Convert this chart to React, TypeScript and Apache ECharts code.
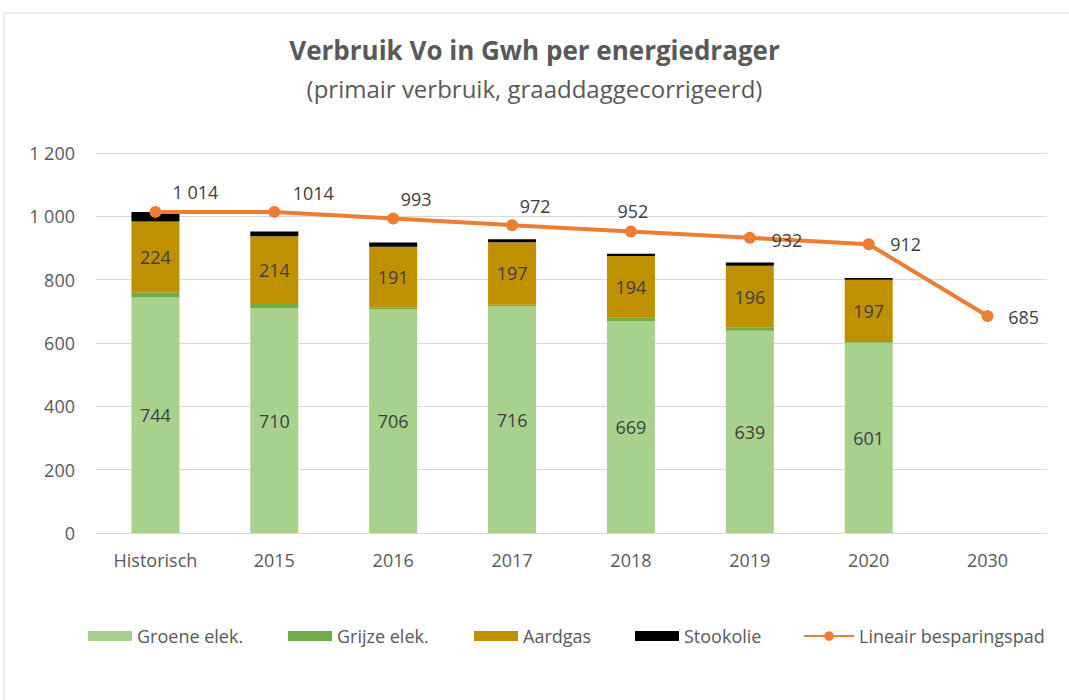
import React, { useEffect, useRef } from "react";
import * as echarts from "echarts";

const categories = ["Historisch", "2015", "2016", "2017", "2018", "2019", "2020", "2030"];
const groeneElek = [744, 710, 706, 716, 669, 639, 601, null];
const grijzeElek = [16, 13, 7, 5, 12, 9, 2, null];
const aardgas = [224, 214, 191, 197, 194, 196, 197, null];
const stookolie = [30, 15, 13, 10, 7, 10, 5, null];
const besparingspad = [1014, 1014, 993, 972, 952, 932, 912, 685];
const besparingsLabels = ["1 014", "1014", "993", "972", "952", "932", "912", "685"];
const labelOffsets = [[40, -20], [39, -19], [23, -20], [23, -19], [2, -21], [37, 2], [37, 0], [36, 1]];
const yTicks = [0, 200, 400, 600, 800, 1000, 1200];

const FONT = "'Open Sans', Lato, sans-serif";
const TXT = "#595959";

export default function App() {
  const ref = useRef<HTMLDivElement>(null);
  useEffect(() => {
    const chart = echarts.init(ref.current!, null, { renderer: "svg" });
    const barLabel = {
      show: true,
      position: "inside",
      color: "#404040",
      fontSize: 18,
      fontFamily: FONT,
    };
    const legendBase = {
      top: 627,
      padding: 0,
      itemWidth: 44,
      itemHeight: 10,
      itemGap: 6,
      textStyle: { color: TXT, fontSize: 18, fontFamily: FONT },
      icon: "rect",
    };
    chart.setOption({
      animation: false,
      backgroundColor: "#ffffff",
      title: [
        {
          text: "Verbruik Vo in Gwh per energiedrager",
          left: "center",
          top: 32,
          textStyle: { color: TXT, fontSize: 26, fontWeight: "bold", fontFamily: FONT },
        },
        {
          text: "(primair verbruik, graaddaggecorrigeerd)",
          left: "center",
          top: 71,
          textStyle: { color: TXT, fontSize: 24, fontWeight: "normal", fontFamily: FONT },
        },
      ],
      graphic: [
        {
          type: "rect",
          shape: { x: 4, y: 13, width: 1100, height: 720 },
          style: { fill: "none", stroke: "#d9d9d9", lineWidth: 1 },
          silent: true,
          z: -1,
        },
      ],
      legend: [
        { ...legendBase, left: 88, data: ["Groene elek."] },
        { ...legendBase, left: 288, data: ["Grijze elek."] },
        { ...legendBase, left: 474, data: ["Aardgas"] },
        { ...legendBase, left: 635, data: ["Stookolie"] },
        {
          ...legendBase,
          left: 803,
          itemWidth: 50,
          itemHeight: 12,
          icon: undefined,
          data: [{ name: "Lineair besparingspad" }],
        },
      ],
      grid: { left: 96, right: 22, top: 153, bottom: 167, containLabel: false },
      xAxis: {
        type: "category",
        data: categories,
        axisLine: { lineStyle: { color: "#d9d9d9" } },
        axisTick: { show: false },
        axisLabel: { color: TXT, fontSize: 18, fontFamily: FONT, margin: 18 },
      },
      yAxis: {
        type: "value",
        min: yTicks[0],
        max: yTicks[yTicks.length - 1],
        interval: 200,
        splitLine: { lineStyle: { color: "#d9d9d9" } },
        axisLine: { show: false },
        axisTick: { show: false },
        axisLabel: {
          color: TXT,
          fontSize: 18,
          fontFamily: FONT,
          margin: 21,
          formatter: (v: number) => String(v).replace(/\B(?=(\d{3})+(?!\d))/g, " "),
        },
      },
      series: [
        {
          name: "Groene elek.",
          type: "bar",
          stack: "v",
          barWidth: 48,
          data: groeneElek,
          itemStyle: { color: "#A9D18E" },
          label: barLabel,
        },
        {
          name: "Grijze elek.",
          type: "bar",
          stack: "v",
          data: grijzeElek,
          itemStyle: { color: "#70AD47" },
        },
        {
          name: "Aardgas",
          type: "bar",
          stack: "v",
          data: aardgas,
          itemStyle: { color: "#BF9000" },
          label: barLabel,
        },
        {
          name: "Stookolie",
          type: "bar",
          stack: "v",
          data: stookolie,
          itemStyle: { color: "#000000" },
        },
        {
          name: "Lineair besparingspad",
          type: "line",
          data: besparingspad.map((v, i) => ({
            value: v,
            label: {
              show: true,
              position: "inside",
              offset: labelOffsets[i],
              formatter: besparingsLabels[i],
              color: "#404040",
              fontSize: 18,
              fontFamily: FONT,
            },
          })),
          symbol: "circle",
          symbolSize: 12,
          lineStyle: { color: "#ED7D31", width: 4 },
          itemStyle: { color: "#ED7D31" },
          z: 5,
        },
      ],
    });
    return () => chart.dispose();
  }, []);
  return (
    <div
      ref={ref}
      style={{ position: "fixed", left: 0, top: 0, width: 1069, height: 700 }}
    />
  );
}
